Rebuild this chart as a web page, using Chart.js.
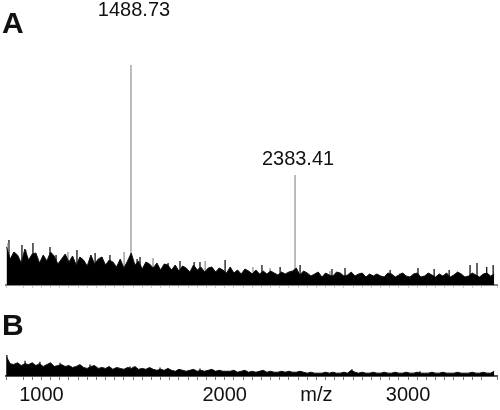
<!DOCTYPE html>
<html>
<head>
<meta charset="utf-8">
<script src="https://cdn.jsdelivr.net/npm/chart.js@4.4.1/dist/chart.umd.min.js"></script>
<style>
  body { margin: 0; background: #fff; }
  #wrap { position: relative; width: 500px; height: 410px; overflow: hidden; }
  canvas { position: absolute; left: 0; }
  #specA { top: 0; }
  #specB { top: 300px; }
</style>
</head>
<body>
<div id="wrap">
  <canvas id="specA" width="500" height="300"></canvas>
  <canvas id="specB" width="500" height="110"></canvas>
</div>
<script>
// m/z range of both spectra
var mzMin = 807;
var mzMax = 3485;

// noise is sampled every 20 m/z starting at 810
var noiseStart = 810;
var noiseStep = 20;

// spectrum A background (intensity, same units as peaks)
var noiseA = [
  380, 260, 330, 300, 220, 360, 250, 310,
  320, 220, 300, 240, 330, 290, 210, 260, 310,
  230, 290, 200, 280, 250, 190, 300, 210, 260, 280,
  200, 250, 230, 180, 260, 170, 240,
  320,
  200, 240, 160, 230, 210, 170, 220, 150, 210, 200, 150,
  200, 140, 190, 170, 130, 200, 150, 180, 130, 170, 180,
  130, 170, 150, 120, 180, 120, 150, 110, 160, 140, 110, 150, 110, 140,
  110, 140, 120, 100, 130, 110, 130, 140,
  170,
  100, 140, 120, 90, 110, 130, 80, 120, 100, 90, 130, 120, 90, 100, 130, 90, 110, 120, 80, 110, 90,
  110, 90, 80, 120, 110, 80, 100, 120, 90, 80,
  110, 120, 80, 90, 120, 100, 80, 110, 90, 120,
  80, 100, 130, 110, 80, 90, 120, 100, 80, 110,
  120, 90, 110
];

// spectrum B background
var noiseB = [
  200, 130, 120, 140, 110, 130, 120, 140,
  110, 130, 100, 120, 140, 100, 110, 120, 100,
  110, 90, 100, 120, 90, 80, 100, 110, 80, 90,
  80, 100, 70, 90, 80, 70, 90, 80, 100, 70, 80, 70, 90, 70,
  60, 70, 60, 80, 60, 50, 70, 60, 50, 60, 70, 50, 60, 50, 60, 70, 50, 60, 50, 50,
  50, 60, 40, 50, 60, 40, 50, 40, 50, 60, 40, 50, 40, 40, 50, 40, 50, 40, 40, 50,
  40, 30, 40, 30, 30, 30, 40, 30, 40, 30,
  30, 40, 30, 60, 40, 30, 40, 30, 30, 40,
  30, 30, 40, 30, 30, 40, 30, 30, 40, 30,
  30, 40, 30, 30, 30, 40, 30, 30, 40, 30,
  30, 30, 40, 30, 30, 30, 40, 30, 30, 40,
  30, 30, 50
];

// single noise spikes standing above the background
var spikeMzA = [823, 894, 954, 1047, 1080, 1194, 1293, 1331, 1374, 1522, 1538, 1691, 1756, 1833, 1865,
                2002, 2203, 2302, 2411, 2585, 2656, 2902, 3054, 3142, 3224, 3338, 3376, 3429, 3464];
var spikeHA   = [450, 400, 420, 380, 300, 350, 320, 280, 300, 260, 280, 220, 240, 230, 230,
                250, 200, 180, 200, 160, 170, 150, 170, 160, 150, 200, 220, 180, 200];
var greyMzA = [818, 916, 1145, 1451, 1609, 1893, 2154, 2247, 2574, 2956];
var greyHA  = [420, 350, 330, 330, 270, 240, 180, 170, 140, 120];

var spikeMzB = [812, 911, 992, 1102, 1265, 1483, 1647, 1865, 2694, 3065];
var spikeHB  = [220, 160, 150, 140, 120, 100, 90, 80, 70, 50];
var greyMzB = [856, 1047, 1293];
var greyHB  = [140, 120, 100];

// labelled peaks in spectrum A
var peakMz = [1488.73, 2383.41];
var peakHeight = [2200, 1100];
var peakLabels = ['1488.73', '2383.41'];

// tick labels on the bottom axis
var tickLabels = { 1000: '1000', 2000: '2000', 2500: 'm/z', 3000: '3000' };

function noisePoints(arr) {
    var pts = [];
    for (var i = 0; i < arr.length; i++) {
        pts.push({ x: noiseStart + i * noiseStep, y: arr[i] });
    }
    return pts;
}

// vertical sticks from the baseline, broken apart with nulls
function stickPoints(mz, h) {
    var pts = [];
    for (var i = 0; i < mz.length; i++) {
        pts.push({ x: mz[i], y: 0 });
        pts.push({ x: mz[i], y: h[i] });
        pts.push({ x: mz[i], y: null });
    }
    return pts;
}

function sticks(mz, h, color, width) {
    return { data: stickPoints(mz, h), borderColor: color, borderWidth: width, spanGaps: false, fill: false };
}

// how far the peak labels' baseline sits above the peak tops (px)
var labelLift = [49, 10];

var panelText = {
    id: 'panelText',
    afterDraw: function (chart, args, opts) {
        var ctx = chart.ctx;
        ctx.save();
        ctx.fillStyle = '#111';
        ctx.font = 'bold 30px "Liberation Sans", Arial, sans-serif';
        ctx.textAlign = 'left';
        ctx.textBaseline = 'alphabetic';
        ctx.fillText(opts.letter, 2, opts.letterY);
        if (opts.peaks) {
            var xs = chart.scales.x, ys = chart.scales.y;
            ctx.font = '20px "Liberation Sans", Arial, sans-serif';
            ctx.textAlign = 'center';
            for (var i = 0; i < peakMz.length; i++) {
                var px = xs.getPixelForValue(peakMz[i]);
                var py = ys.getPixelForValue(peakHeight[i]);
                ctx.fillText(peakLabels[i], px + 3, py - labelLift[i]);
            }
        }
        ctx.restore();
    }
};

function xScale(showLabels) {
    return {
        type: 'linear',
        min: mzMin,
        max: mzMax,
        border: { display: true, color: showLabels ? '#555' : '#888', width: 2 },
        grid: { drawOnChartArea: false, drawTicks: true, tickLength: showLabels ? 4 : 3, color: showLabels ? '#777' : '#ccc' },
        ticks: {
            display: showLabels,
            stepSize: 50,
            autoSkip: false,
            maxRotation: 0,
            padding: 3,
            color: '#111',
            font: { family: '"Liberation Sans", Arial, sans-serif', size: 20 },
            callback: function (v) { return tickLabels[v] || ''; }
        }
    };
}

var commonOpts = {
    responsive: false,
    animation: false,
    plugins: { legend: { display: false }, tooltip: { enabled: false } },
    elements: { point: { radius: 0 }, line: { tension: 0 } }
};

new Chart(document.getElementById('specA'), {
    type: 'line',
    data: {
        datasets: [{
            data: noisePoints(noiseA),
            borderColor: '#111',
            borderWidth: 1,
            backgroundColor: '#000',
            fill: 'origin'
        },
        sticks(greyMzA, greyHA, '#888', 1.2),
        sticks(spikeMzA, spikeHA, '#000', 1.2),
        sticks(peakMz, peakHeight, '#777', 1)]
    },
    options: Object.assign({}, commonOpts, {
        layout: { padding: { left: 6, right: 3, top: 64, bottom: 12 } },
        scales: {
            x: xScale(false),
            y: { display: false, min: 0, max: 2210 }
        },
        plugins: Object.assign({}, commonOpts.plugins, {
            panelText: { letter: 'A', letterY: 33, peaks: true }
        })
    }),
    plugins: [panelText]
});

new Chart(document.getElementById('specB'), {
    type: 'line',
    data: {
        datasets: [{
            data: noisePoints(noiseB),
            borderColor: '#111',
            borderWidth: 1,
            backgroundColor: '#000',
            fill: 'origin'
        },
        sticks(greyMzB, greyHB, '#888', 1.2),
        sticks(spikeMzB, spikeHB, '#000', 1.2)]
    },
    options: Object.assign({}, commonOpts, {
        layout: { padding: { left: 6, right: 3, top: 20, bottom: 0 } },
        scales: {
            x: xScale(true),
            y: { display: false, min: 0, max: 590 }
        },
        plugins: Object.assign({}, commonOpts.plugins, {
            panelText: { letter: 'B', letterY: 35, peaks: false }
        })
    }),
    plugins: [panelText]
});
</script>
</body>
</html>
